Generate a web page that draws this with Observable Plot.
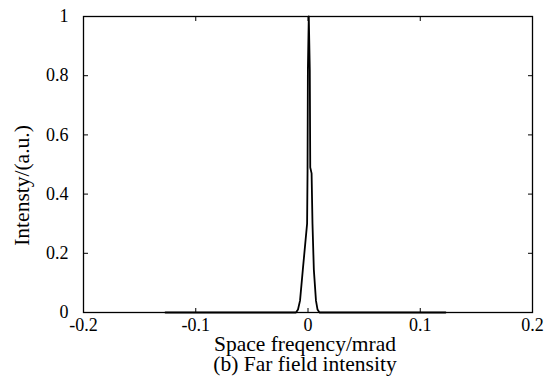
<!DOCTYPE html>
<html>
<head>
<meta charset="utf-8">
<script src="https://cdn.jsdelivr.net/npm/d3@7"></script>
<script src="https://cdn.jsdelivr.net/npm/@observablehq/plot@0.6"></script>
<style>
  html, body { margin: 0; padding: 0; background: #fff; }
  #wrap { width: 558px; height: 388px; background: #fff; font-family: 'Liberation Serif', serif; color: #000; }
  #chart svg, #chart svg text { font-family: 'Liberation Serif', serif !important; }
  .lbl { width: 558px; box-sizing: border-box; padding-left: 52px; text-align: center; font-family: 'Liberation Serif', serif; font-size: 21.5px; white-space: nowrap; }
</style>
</head>
<body>
<div id="wrap">
  <div id="chart"></div>
  <div class="lbl" id="xlabel" style="height:19px;line-height:19px;"></div>
  <div class="lbl" id="caption" style="height:20px;line-height:20px;"></div>
</div>
<script>
// Far-field intensity profile
const freq = [-0.127, -0.0107, -0.0089, -0.0071, -0.0046, -0.0008, -0.0004, -0.0001, 0.0007, 0.0016, 0.0020, 0.0032, 0.0040, 0.0052, 0.0071, 0.0085, 0.0102, 0.1225];
const intensity = [0, 0, 0.01, 0.04, 0.145, 0.30, 0.48, 0.82, 1.0, 0.82, 0.49, 0.47, 0.30, 0.145, 0.04, 0.01, 0, 0];
const xTicks = [-0.2, -0.1, 0, 0.1, 0.2];
const yTicks = [0, 0.2, 0.4, 0.6, 0.8, 1];
const xLabel = "Space freqency/mrad";
const yLabel = "Intensty/(a.u.)";
const caption = "(b) Far field intensity";

const data = freq.map((f, i) => ({f, v: intensity[i]}));
const fmt = d => String(d);
const blank = () => "";

const plot = Plot.plot({
  width: 558,
  height: 335,
  marginLeft: 83,
  marginRight: 26,
  marginTop: 16,
  marginBottom: 23,
  style: {fontSize: "18px", color: "#000", background: "#fff"},
  x: {domain: [-0.2, 0.2]},
  y: {domain: [0, 1]},
  marks: [
    Plot.axisX({anchor: "bottom", ticks: xTicks, tickSize: 0, tickPadding: 6, tickFormat: fmt, label: null}),
    Plot.axisX({anchor: "bottom", ticks: xTicks, tickSize: -4, tickFormat: blank, label: null}),
    Plot.axisX({anchor: "top", ticks: xTicks, tickSize: -4, tickFormat: blank, label: null}),
    Plot.axisY({anchor: "left", ticks: yTicks, tickSize: 0, tickPadding: 15, tickFormat: fmt, label: null}),
    Plot.axisY({anchor: "left", ticks: yTicks, tickSize: -5, tickFormat: blank, label: null}),
    Plot.axisY({anchor: "right", ticks: yTicks, tickSize: -5, tickFormat: blank, label: null}),
    Plot.line(data, {x: "f", y: "v", stroke: "#000", strokeWidth: 1.8}),
    Plot.frame({stroke: "#000", strokeWidth: 1.3}),
    Plot.text([yLabel], {frameAnchor: "left", text: d => d, rotate: -90, textAnchor: "middle", lineAnchor: "middle", dx: -61, dy: 21, fontSize: 21.5, fill: "#000"})
  ]
});
document.getElementById("chart").appendChild(plot);
document.getElementById("xlabel").textContent = xLabel;
document.getElementById("caption").textContent = caption;
</script>
</body>
</html>
